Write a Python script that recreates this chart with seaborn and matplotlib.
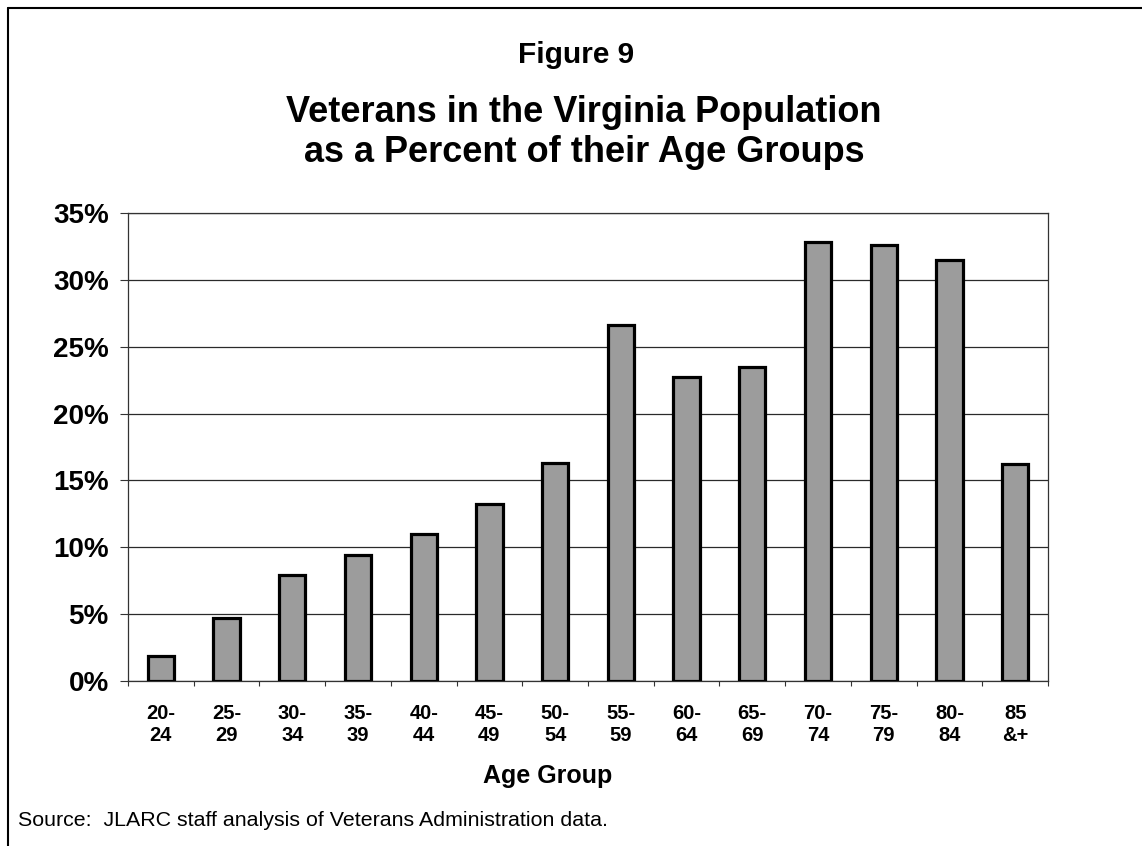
import matplotlib
matplotlib.use("Agg")
import matplotlib.pyplot as plt
from matplotlib.lines import Line2D
import seaborn as sns
import pandas as pd

# Age groups and share of each group who are veterans (percent)
age_groups = ["20-\n24", "25-\n29", "30-\n34", "35-\n39", "40-\n44", "45-\n49", "50-\n54",
              "55-\n59", "60-\n64", "65-\n69", "70-\n74", "75-\n79", "80-\n84", "85\n&+"]
veteran_pct = [1.9, 4.7, 7.9, 9.4, 11.0, 13.2, 16.3, 26.6, 22.7, 23.5, 32.8, 32.6, 31.5, 16.2]
y_ticks = [0, 5, 10, 15, 20, 25, 30, 35]

sns.set_theme(style="white")
plt.rcParams["font.family"] = ["Liberation Sans", "DejaVu Sans"]
plt.rcParams["text.color"] = "black"
plt.rcParams["xtick.color"] = "black"
plt.rcParams["ytick.color"] = "black"
plt.rcParams["axes.labelcolor"] = "black"

df = pd.DataFrame({"Age Group": age_groups, "Percent": veteran_pct})

W, H = 1142, 846
fig = plt.figure(figsize=(W / 100, H / 100), dpi=100)
ax_l, ax_r, ax_t, ax_b = 128, 1048, 213, 681
ax = fig.add_axes([ax_l / W, 1 - ax_b / H, (ax_r - ax_l) / W, (ax_b - ax_t) / H])

sns.barplot(data=df, x="Age Group", y="Percent", color="#9c9c9c", width=0.4,
            edgecolor="black", linewidth=2.3, saturation=1, ax=ax, zorder=3)

ax.set_xlim(-0.5, len(age_groups) - 0.5)
ax.set_ylim(0, 35)
ax.set_yticks(y_ticks)
ax.set_yticklabels([f"{v}%" for v in y_ticks], fontsize=20, fontweight="bold")
ax.yaxis.grid(True, color="#2a2a2a", linewidth=0.9, zorder=0)
ax.xaxis.grid(False)

# category labels centred under the bars, tick marks on the category boundaries
ax.set_xticks(range(len(age_groups)))
ax.set_xticklabels(age_groups, fontsize=14.5, fontweight="bold", linespacing=1.2)
ax.tick_params(axis="x", which="major", length=0, pad=16.5)
ax.set_xticks([i - 0.5 for i in range(len(age_groups) + 1)], minor=True)
ax.tick_params(axis="x", which="minor", direction="out", length=3.6, width=0.8,
               color="#333333", bottom=True)
ax.tick_params(axis="y", direction="out", length=5.8, width=0.8, color="#333333",
               left=True, pad=8)

for side in ["left", "right", "top", "bottom"]:
    ax.spines[side].set_visible(True)
    ax.spines[side].set_color("#333333")
    ax.spines[side].set_linewidth(0.9)

ax.set_ylabel("")
ax.set_xlabel("Age Group", fontsize=18, fontweight="bold", va="baseline")
ax.xaxis.set_label_coords((548 - ax_l) / (ax_r - ax_l), (ax_b - 783) / (ax_b - ax_t))

fig.text(576 / W, 1 - 63 / H, "Figure 9", ha="center", va="baseline",
         fontsize=21.5, fontweight="bold")
fig.text(584 / W, 1 - 122 / H, "Veterans in the Virginia Population", ha="center",
         va="baseline", fontsize=26, fontweight="bold")
fig.text(584 / W, 1 - 162 / H, "as a Percent of their Age Groups", ha="center",
         va="baseline", fontsize=26, fontweight="bold")
fig.text(18 / W, 1 - 826 / H, "Source:  JLARC staff analysis of Veterans Administration data.",
         ha="left", va="baseline", fontsize=15.4)

# page frame: rule along the top and down the left side
fig.add_artist(Line2D([8 / W, 1.0], [1 - 8 / H, 1 - 8 / H], color="black", linewidth=1.5))
fig.add_artist(Line2D([8 / W, 8 / W], [0.0, 1 - 8 / H], color="black", linewidth=1.5))

fig.savefig("out.png", dpi=100, facecolor="white")
